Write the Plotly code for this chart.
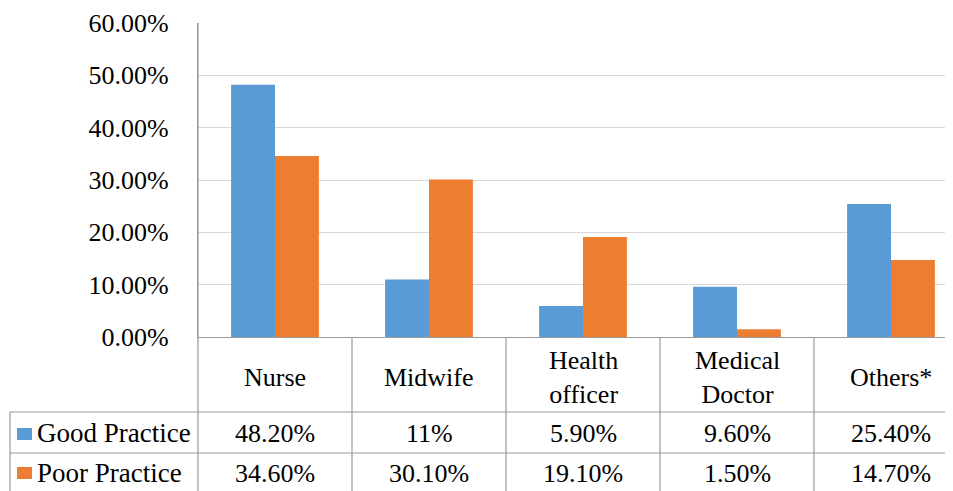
import plotly.graph_objects as go

categories = ["Nurse", "Midwife", "Health officer", "Medical Doctor", "Others*"]
header_labels = ["Nurse", "Midwife", "Health<br>officer", "Medical<br>Doctor", "Others*"]
series_names = ["Good Practice", "Poor Practice"]
good_values = [0.482, 0.11, 0.059, 0.096, 0.254]
poor_values = [0.346, 0.301, 0.191, 0.015, 0.147]
good_labels = ["48.20%", "11%", "5.90%", "9.60%", "25.40%"]
poor_labels = ["34.60%", "30.10%", "19.10%", "1.50%", "14.70%"]
colors = ["#5B9BD5", "#ED7D31"]

# page body has an 8px margin: figure is placed at (8, 8) on screen
OFF = 8
W, H = 953 - OFF, 491 - OFF
L = 198          # plot left (screen px)
CW = 154         # category width (px)
Y0, Y60 = 337, 23
FONT = "Liberation Serif"
FS = 26
LINE = "#9a9a9a"

def px(x):
    return (x - OFF) / W

def py(y):
    return 1 - (y - OFF) / H

xidx = list(range(len(categories)))

fig = go.Figure()
fig.add_trace(go.Bar(x=xidx, y=good_values, name=series_names[0], marker_color=colors[0],
                     marker_line_width=0))
fig.add_trace(go.Bar(x=xidx, y=poor_values, name=series_names[1], marker_color=colors[1],
                     marker_line_width=0))

shapes = []
shapes.append(dict(type="line", xref="paper", yref="paper", x0=px(L), x1=px(L),
                   y0=py(Y60), y1=0, line=dict(color=LINE, width=1.2)))
for i in range(1, len(categories)):
    xb = L + i * CW
    shapes.append(dict(type="line", xref="paper", yref="paper", x0=px(xb), x1=px(xb),
                       y0=py(Y0), y1=0, line=dict(color=LINE, width=1.2)))
for yy in [412, 453]:
    shapes.append(dict(type="line", xref="paper", yref="paper", x0=px(10), x1=1,
                       y0=py(yy), y1=py(yy), line=dict(color=LINE, width=1.2)))
shapes.append(dict(type="line", xref="paper", yref="paper", x0=px(10), x1=px(10),
                   y0=py(412), y1=0, line=dict(color=LINE, width=1.2)))
for c, (ya, yb) in zip(colors, [(428, 440), (467, 479)]):
    shapes.append(dict(type="rect", xref="paper", yref="paper", x0=px(17), x1=px(32),
                       y0=py(yb), y1=py(ya), fillcolor=c, line=dict(width=0)))

annotations = []
for i, lab in enumerate(header_labels):
    annotations.append(dict(x=i, xref="x", y=py(377), yref="paper", text=lab,
                            showarrow=False, xanchor="center", yanchor="middle",
                            font=dict(family=FONT, size=FS, color="black")))
for i, (g, p) in enumerate(zip(good_labels, poor_labels)):
    annotations.append(dict(x=i, xref="x", y=py(433), yref="paper", text=g,
                            showarrow=False, xanchor="center", yanchor="middle",
                            font=dict(family=FONT, size=FS, color="black")))
    annotations.append(dict(x=i, xref="x", y=py(473), yref="paper", text=p,
                            showarrow=False, xanchor="center", yanchor="middle",
                            font=dict(family=FONT, size=FS, color="black")))
for name, yy in zip(series_names, [433, 473]):
    annotations.append(dict(x=px(35), xref="paper", y=py(yy), yref="paper", text=name,
                            showarrow=False, xanchor="left", yanchor="middle",
                            font=dict(family=FONT, size=27, color="black")))

fig.update_layout(
    width=W, height=H,
    margin=dict(l=0, r=0, t=0, b=0, pad=0, autoexpand=False),
    font=dict(family=FONT),
    paper_bgcolor="white", plot_bgcolor="white",
    showlegend=False,
    barmode="group", bargap=0.43, bargroupgap=0,
    xaxis=dict(domain=[px(L), 1], range=[-0.5, -0.5 + (953 - L) / CW],
               showticklabels=False, showgrid=False, zeroline=False, automargin=False,
               showline=True, linecolor=LINE, linewidth=1.2, ticks=""),
    yaxis=dict(domain=[py(Y0), py(Y60)], range=[0, 0.6], dtick=0.1, automargin=False,
               tickformat=".2%", showgrid=True, gridcolor="#d9d9d9", gridwidth=1,
               zeroline=False, showline=True, linecolor=LINE, linewidth=1.2,
               ticks="", ticklabelstandoff=23,
               tickfont=dict(family=FONT, size=FS, color="black")),
    shapes=shapes,
    annotations=annotations,
)

fig.write_html("out.html")
